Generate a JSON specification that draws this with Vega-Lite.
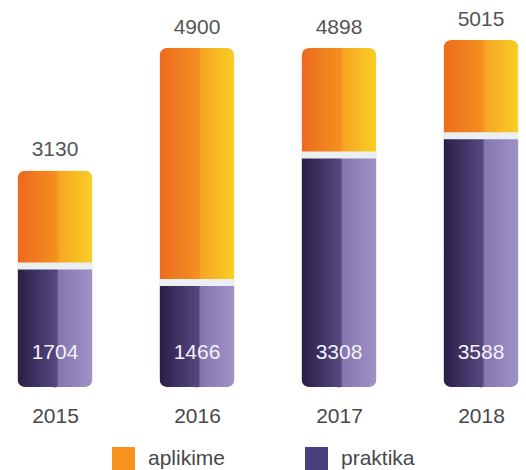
{
  "$schema": "https://vega.github.io/schema/vega-lite/v6.json",
  "width": 426,
  "height": 347,
  "autosize": {"type": "none"},
  "padding": {"left": 55, "top": 40, "right": 45, "bottom": 83},
  "background": "white",
  "config": {"view": {"stroke": null}, "font": "Liberation Sans"},
  "data": {
    "values": [
      {"year": "2015", "series": "aplikime", "value": 3130},
      {"year": "2016", "series": "aplikime", "value": 4900},
      {"year": "2017", "series": "aplikime", "value": 4898},
      {"year": "2018", "series": "aplikime", "value": 5015},
      {"year": "2015", "series": "praktika", "value": 1704},
      {"year": "2016", "series": "praktika", "value": 1466},
      {"year": "2017", "series": "praktika", "value": 3308},
      {"year": "2018", "series": "praktika", "value": 3588}
    ]
  },
  "encoding": {
    "x": {
      "field": "year",
      "type": "ordinal",
      "scale": {"type": "point", "padding": 0},
      "axis": {
        "title": null,
        "domain": false,
        "ticks": false,
        "labelAngle": 0,
        "labelFontSize": 21,
        "labelColor": "#484848",
        "labelPadding": 18,
        "labelFont": "Liberation Sans"
      }
    }
  },
  "layer": [
    {
      "mark": {"type": "square", "size": 1, "opacity": 1},
      "encoding": {
        "y": {"datum": 0, "type": "quantitative", "scale": {"domain": [0, 5015], "nice": false}, "axis": null},
        "color": {
          "field": "series",
          "type": "nominal",
          "scale": {"domain": ["aplikime", "praktika"], "range": ["#f7941d", "#4b3f7f"]},
          "legend": {
            "title": null,
            "orient": "none",
            "legendX": 57,
            "legendY": 407,
            "direction": "horizontal",
            "symbolType": "square",
            "symbolSize": 529,
            "symbolStrokeWidth": 0,
            "labelFontSize": 21,
            "labelColor": "#484848",
            "labelFont": "Liberation Sans",
            "labelOffset": 13,
            "columnPadding": 79,
            "padding": 0
          }
        }
      }
    },
    {
      "transform": [{"filter": "datum.series == 'aplikime'"}],
      "mark": {
        "type": "bar",
        "width": 75,
        "cornerRadius": 8,
        "color": {
          "gradient": "linear",
          "x1": 0, "y1": 0, "x2": 1, "y2": 0,
          "stops": [
            {"offset": 0, "color": "#ec6a1e"},
            {"offset": 0.52, "color": "#f39020"},
            {"offset": 0.56, "color": "#f6a622"},
            {"offset": 1, "color": "#f9cf25"}
          ]
        }
      },
      "encoding": {
        "y": {"field": "value", "type": "quantitative"}
      }
    },
    {
      "transform": [{"filter": "datum.series == 'praktika'"}],
      "mark": {
        "type": "bar",
        "width": 75,
        "cornerRadiusBottomLeft": 8,
        "cornerRadiusBottomRight": 8,
        "color": {
          "gradient": "linear",
          "x1": 0, "y1": 0, "x2": 1, "y2": 0,
          "stops": [
            {"offset": 0, "color": "#2a1e48"},
            {"offset": 0.52, "color": "#55487f"},
            {"offset": 0.55, "color": "#8676b0"},
            {"offset": 1, "color": "#a092c8"}
          ]
        }
      },
      "encoding": {
        "y": {"field": "value", "type": "quantitative"}
      }
    },
    {
      "transform": [{"filter": "datum.series == 'praktika'"}],
      "mark": {"type": "tick", "color": "#eaf0f1", "thickness": 7, "size": 75, "yOffset": -3, "opacity": 1},
      "encoding": {
        "y": {"field": "value", "type": "quantitative"}
      }
    },
    {
      "transform": [{"filter": "datum.series == 'aplikime'"}],
      "mark": {"type": "text", "baseline": "middle", "dy": -20, "fontSize": 21, "color": "#555555", "font": "Liberation Sans"},
      "encoding": {
        "y": {"field": "value", "type": "quantitative"},
        "text": {"field": "value", "type": "quantitative", "format": "d"}
      }
    },
    {
      "transform": [{"filter": "datum.series == 'praktika'"}],
      "mark": {"type": "text", "baseline": "middle", "fontSize": 21, "color": "#f4f2fa", "font": "Liberation Sans"},
      "encoding": {
        "y": {"datum": 490, "type": "quantitative"},
        "text": {"field": "value", "type": "quantitative", "format": "d"}
      }
    }
  ]
}
